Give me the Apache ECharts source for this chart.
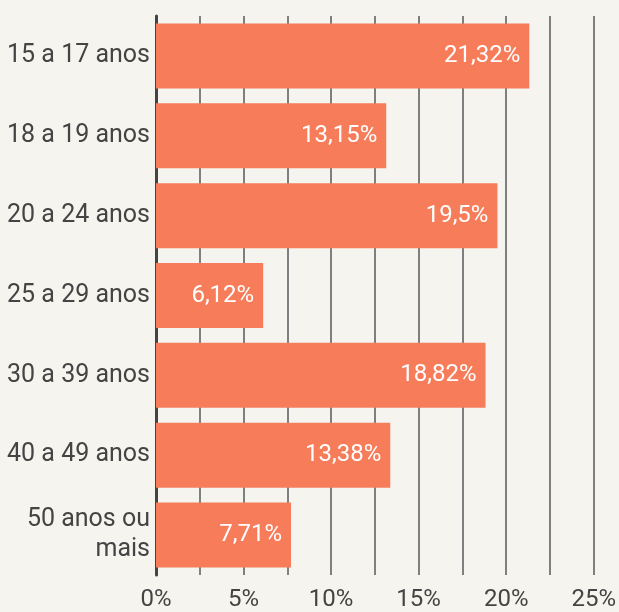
<!DOCTYPE html>
<html><head><meta charset="utf-8">
<script src="https://cdn.jsdelivr.net/npm/echarts@6/dist/echarts.min.js"></script>
<style>html,body{margin:0;padding:0;background:#f5f4ee;}#c{width:619px;height:612px;}</style>
</head><body><div id="c"></div>
<script>
const categories = ['15 a 17 anos','18 a 19 anos','20 a 24 anos','25 a 29 anos','30 a 39 anos','40 a 49 anos','50 anos ou\nmais'];
const values = [21.32, 13.15, 19.5, 6.12, 18.82, 13.38, 7.71];
const tickLabels = ['0%','5%','10%','15%','20%','25%'];

const chart = echarts.init(document.getElementById('c'), null, {renderer:'canvas'});
chart.setOption({
  backgroundColor:'#f5f4ee',
  animation:false,
  grid:{left:156, right:23, top:16, bottom:36, containLabel:false},
  xAxis:{
    type:'value', min:0, max:25, interval:2.5,
    axisLine:{show:false}, axisTick:{show:false},
    splitLine:{show:true, lineStyle:{color:'#7f7f7f', width:2}},
    axisLabel:{
      margin:13, color:'#444', fontSize:24, fontFamily:'Roboto',
      formatter:function(v){ const i = Math.round(v/5); return Math.abs(v - i*5) < 1e-6 ? tickLabels[i] : ''; }
    }
  },
  yAxis:{
    type:'category', data:categories, inverse:true,
    axisLine:{show:true, lineStyle:{color:'#444', width:3}},
    axisTick:{show:false},
    axisLabel:{margin:6, color:'#444', fontSize:25, fontFamily:'Roboto', lineHeight:30, align:'right'}
  },
  series:[{
    type:'bar', data:values, barWidth:65,
    itemStyle:{color:'#f67c5a'},
    label:{show:true, position:'insideRight', distance:9, color:'#fff', fontSize:24, fontFamily:'Roboto',
      formatter:function(p){ return String(p.value).replace('.', ',') + '%'; }}
  }]
});
</script></body></html>
